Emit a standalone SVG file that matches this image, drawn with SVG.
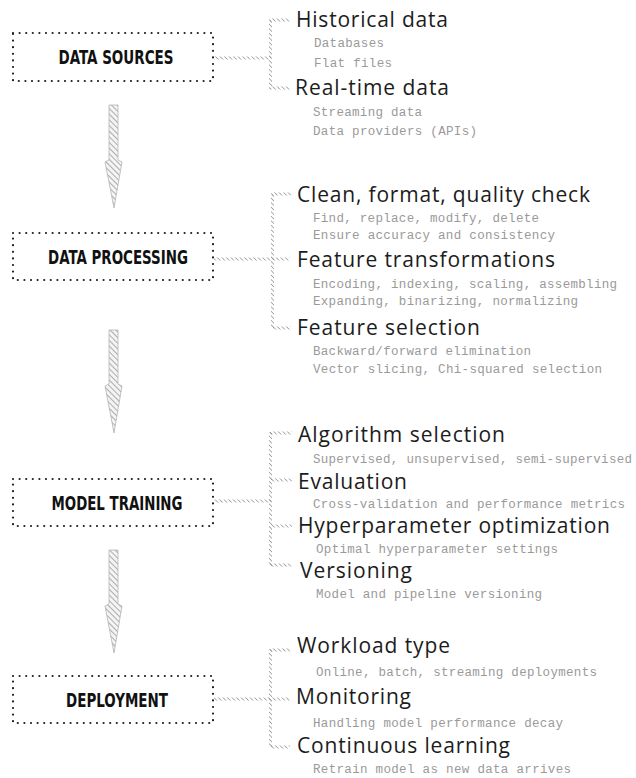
<svg xmlns="http://www.w3.org/2000/svg" width="636" height="778" viewBox="0 0 636 778">
  <defs>
    <!-- diagonal hatch used by the flow arrows -->
    <pattern id="hatch" patternUnits="userSpaceOnUse" width="4" height="4" patternTransform="rotate(-45)">
      <rect width="4" height="4" fill="#f4f4f4"/>
      <line x1="0" y1="0" x2="0" y2="4" stroke="#9a9a9a" stroke-width="1.6"/>
    </pattern>
    <!-- finer hatch for the bracket connectors -->
    <pattern id="slash" patternUnits="userSpaceOnUse" width="3.2" height="3.2" patternTransform="rotate(-45)">
      <line x1="0" y1="0" x2="0" y2="3.2" stroke="#7a7a7a" stroke-width="1.2"/>
    </pattern>
    <style>
      .box { fill: none; stroke: #1e1e1e; stroke-width: 2.2; stroke-dasharray: 0 6.6; stroke-linecap: round; }
      .label { font-family: "DejaVu Sans Condensed", "DejaVu Sans", sans-serif; font-stretch: condensed; font-weight: bold; font-size: 20px; fill: #111; text-anchor: middle; }
      .head { font-family: "Open Sans", "Noto Sans", sans-serif; font-size: 21px; fill: #1c1c1c; }
      .sub { font-family: "Liberation Mono", "DejaVu Sans Mono", monospace; font-size: 12.5px; fill: #9a9a9a; }
      .arrow { fill: url(#hatch); stroke: #b5b5b5; stroke-width: 0.8; }
      .wire { fill: url(#slash); }
    </style>
  </defs>

  <rect width="636" height="778" fill="#ffffff"/>

  <!-- flow arrows and bracket connectors -->
  <g id="connectors">
    <path class="arrow" d="M109,105 H118 V160 L122,162 L114,208 L105,162 L109,160 Z"/>
    <path class="arrow" d="M109,330 H118 V384 L122,386 L114,433 L105,386 L109,384 Z"/>
    <path class="arrow" d="M109,550 H118 V604 L122,606 L114,653 L105,606 L109,604 Z"/>

    <!-- data sources bracket -->
    <rect class="wire" x="214" y="56.5" width="57" height="3"/>
    <rect class="wire" x="269" y="19" width="3" height="70"/>
    <rect class="wire" x="270" y="18.5" width="20" height="3"/>
    <rect class="wire" x="270" y="86.5" width="20" height="3"/>

    <!-- data processing bracket -->
    <rect class="wire" x="214" y="257.5" width="76" height="3"/>
    <rect class="wire" x="271" y="193" width="3" height="136"/>
    <rect class="wire" x="272" y="192.5" width="19" height="3"/>
    <rect class="wire" x="272" y="326.5" width="19" height="3"/>

    <!-- model training bracket -->
    <rect class="wire" x="214" y="499.5" width="57" height="3"/>
    <rect class="wire" x="269" y="432" width="3" height="134"/>
    <rect class="wire" x="270" y="431.5" width="22" height="3"/>
    <rect class="wire" x="270" y="478.5" width="22" height="3"/>
    <rect class="wire" x="270" y="524.5" width="22" height="3"/>
    <rect class="wire" x="270" y="563.5" width="22" height="3"/>

    <!-- deployment bracket -->
    <rect class="wire" x="214" y="697.5" width="76" height="3"/>
    <rect class="wire" x="269" y="649" width="3" height="99"/>
    <rect class="wire" x="270" y="648.5" width="20" height="3"/>
    <rect class="wire" x="270" y="745.5" width="20" height="3"/>
  </g>

  <!-- stage boxes -->
  <g id="data-sources">
    <rect class="box" x="13" y="33" width="200" height="48"/>
    <text class="label" x="116" y="64" textLength="115" lengthAdjust="spacingAndGlyphs">DATA SOURCES</text>
  </g>
  <g id="data-processing">
    <rect class="box" x="13" y="233" width="200" height="47"/>
    <text class="label" x="118" y="264" textLength="140" lengthAdjust="spacingAndGlyphs">DATA PROCESSING</text>
  </g>
  <g id="model-training">
    <rect class="box" x="13" y="479" width="200" height="47"/>
    <text class="label" x="117" y="510" textLength="131" lengthAdjust="spacingAndGlyphs">MODEL TRAINING</text>
  </g>
  <g id="deployment">
    <rect class="box" x="13" y="676" width="200" height="47"/>
    <text class="label" x="117" y="707" textLength="102" lengthAdjust="spacingAndGlyphs">DEPLOYMENT</text>
  </g>

  <!-- detail lists -->
  <g id="data-sources-details">
    <text class="head" x="296" y="27" textLength="152" lengthAdjust="spacing">Historical data</text>
    <text class="sub" x="314" y="47" textLength="70">Databases</text>
    <text class="sub" x="314" y="67" textLength="78">Flat files</text>
    <text class="head" x="295" y="95" textLength="154" lengthAdjust="spacing">Real-time data</text>
    <text class="sub" x="313" y="116" textLength="109">Streaming data</text>
    <text class="sub" x="313" y="135" textLength="164">Data providers (APIs)</text>
  </g>

  <g id="data-processing-details">
    <text class="head" x="297" y="202" textLength="293" lengthAdjust="spacing">Clean, format, quality check</text>
    <text class="sub" x="313" y="222" textLength="226">Find, replace, modify, delete</text>
    <text class="sub" x="313" y="239" textLength="242">Ensure accuracy and consistency</text>
    <text class="head" x="297" y="267" textLength="258" lengthAdjust="spacing">Feature transformations</text>
    <text class="sub" x="313" y="288" textLength="304">Encoding, indexing, scaling, assembling</text>
    <text class="sub" x="313" y="305" textLength="265">Expanding, binarizing, normalizing</text>
    <text class="head" x="297" y="335" textLength="183" lengthAdjust="spacing">Feature selection</text>
    <text class="sub" x="313" y="355" textLength="218">Backward/forward elimination</text>
    <text class="sub" x="313" y="373" textLength="289">Vector slicing, Chi-squared selection</text>
  </g>

  <g id="model-training-details">
    <text class="head" x="298" y="442" textLength="207" lengthAdjust="spacing">Algorithm selection</text>
    <text class="sub" x="313" y="463" textLength="319">Supervised, unsupervised, semi-supervised</text>
    <text class="head" x="298" y="489" textLength="109" lengthAdjust="spacing">Evaluation</text>
    <text class="sub" x="313" y="508" textLength="312">Cross-validation and performance metrics</text>
    <text class="head" x="298" y="533" textLength="312" lengthAdjust="spacing">Hyperparameter optimization</text>
    <text class="sub" x="316" y="553" textLength="242">Optimal hyperparameter settings</text>
    <text class="head" x="300" y="578" textLength="112" lengthAdjust="spacing">Versioning</text>
    <text class="sub" x="316" y="598" textLength="226">Model and pipeline versioning</text>
  </g>

  <g id="deployment-details">
    <text class="head" x="297" y="653" textLength="153" lengthAdjust="spacing">Workload type</text>
    <text class="sub" x="316" y="676" textLength="281">Online, batch, streaming deployments</text>
    <text class="head" x="296" y="704" textLength="115" lengthAdjust="spacing">Monitoring</text>
    <text class="sub" x="313" y="727" textLength="250">Handling model performance decay</text>
    <text class="head" x="297" y="753" textLength="213" lengthAdjust="spacing">Continuous learning</text>
    <text class="sub" x="313" y="773" textLength="258">Retrain model as new data arrives</text>
  </g>
</svg>
